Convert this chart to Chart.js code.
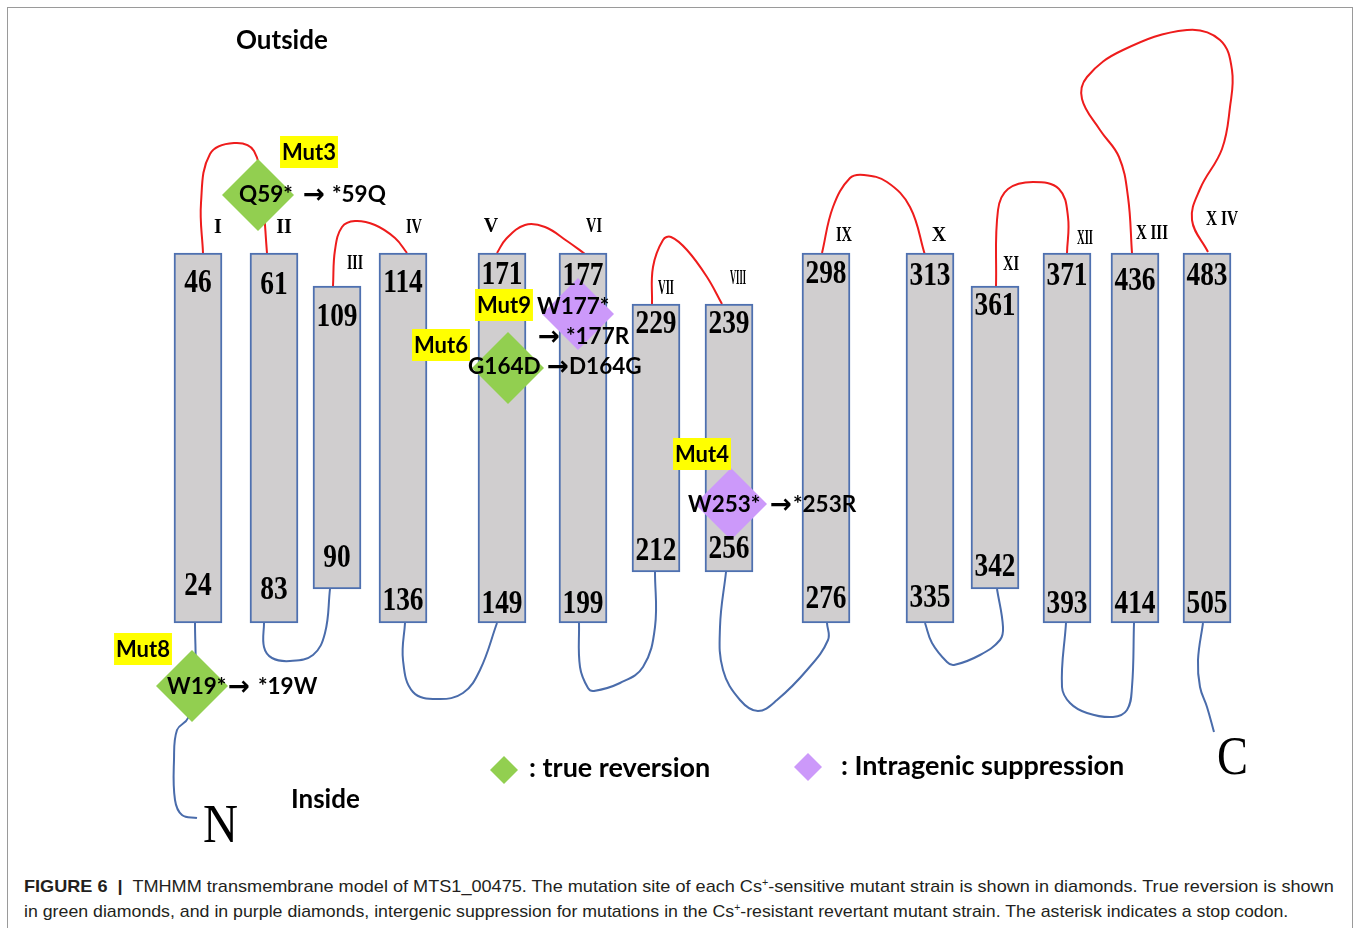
<!DOCTYPE html>
<html>
<head>
<meta charset="utf-8">
<title>TMHMM transmembrane model of MTS1_00475</title>
<script src="https://cdn.jsdelivr.net/npm/chart.js@4"></script>
<style>
  html, body { margin: 0; padding: 0; background: #fff; overflow: hidden; }
  #frame { position: absolute; left: 7px; top: 7px; width: 1344px; height: 980px; border: 1px solid #9a9a9a; }
  #chart { position: absolute; left: 8px; top: 8px; }
  .cap { position: absolute; left: 24px; font: 17px 'Liberation Sans', Arial, sans-serif; color: #231f20;
         white-space: nowrap; line-height: 22px; transform-origin: 0 50%; }
  .cap sup { font-size: 10px; vertical-align: 6px; line-height: 0; }
</style>
</head>
<body>
<div id="frame"></div>
<canvas id="chart" width="1344" height="850"></canvas>
<div class="cap" id="cap1" style="top:876px"><b>FIGURE 6</b>&nbsp; <b>|</b>&nbsp; TMHMM transmembrane model of MTS1_00475. The mutation site of each Cs<sup>+</sup>-sensitive mutant strain is shown in diamonds. True reversion is shown</div>
<div class="cap" id="cap2" style="top:901px">in green diamonds, and in purple diamonds, intergenic suppression for mutations in the Cs<sup>+</sup>-resistant revertant mutant strain. The asterisk indicates a stop codon.</div>
<script>
// membrane units: y = 0 is the inner face of the membrane, x runs along it
const helixNames = ['I', 'II', 'III', 'IV', 'V', 'VI', 'VII', 'VIII', 'IX', 'X', 'XI', 'XII', 'X III', 'X IV'];
const helixCenter = [19.0, 26.6, 32.9, 39.5, 49.4, 57.5, 64.8, 72.1, 81.8, 92.2, 98.7, 105.9, 112.7, 119.9];
const helixTop = [37.0, 37.0, 33.7, 37.0, 37.0, 37.0, 31.9, 31.9, 37.0, 37.0, 33.7, 37.0, 37.0, 37.0];
const helixBottom = [0, 0, 3.4, 0, 0, 0, 5.1, 5.1, 0, 0, 3.4, 0, 0, 0];
const topResidue = [46, 61, 109, 114, 171, 177, 229, 239, 298, 313, 361, 371, 436, 483];
const bottomResidue = [24, 83, 90, 136, 149, 199, 212, 256, 276, 335, 342, 393, 414, 505];

// loops outside the cell (red) and inside (blue)
const outsideLoops = [
  [[19.5, 37.0], [19.3, 42.0], [20.2, 46.9], [22.6, 48.0], [24.6, 47.2], [25.4, 43.0], [25.9, 37.0]],
  [[32.5, 33.7], [32.7, 37.3], [33.4, 39.6], [34.7, 40.2], [36.7, 39.8], [38.7, 38.5], [39.9, 37.0]],
  [[48.9, 37.0], [49.8, 38.4], [51.7, 39.8], [53.7, 39.6], [55.9, 38.2], [57.7, 36.9]],
  [[64.4, 31.9], [64.5, 35.6], [65.5, 38.3], [66.3, 38.6], [67.9, 37.3], [69.9, 34.6], [71.4, 31.9]],
  [[81.4, 37.0], [82.5, 41.6], [84.2, 44.5], [85.6, 44.8], [87.9, 44.1], [90.2, 41.6], [91.7, 36.8]],
  [[98.8, 33.7], [99.0, 41.3], [100.0, 43.4], [102.5, 44.1], [105.1, 43.4], [106.0, 40.6], [105.9, 37.0]],
  [[112.4, 37.0], [112.0, 42.6], [111.1, 46.6], [109.2, 49.3], [107.4, 52.4], [107.9, 54.6], [111.5, 57.3],
   [117.9, 59.3], [121.2, 58.3], [122.4, 55.3], [122.2, 51.6], [121.4, 47.4], [119.2, 43.4], [118.4, 40.3], [120.0, 37.1]]
];
const insideLoops = [
  [[18.9, -19.5], [17.4, -19.2], [16.7, -17.7], [16.6, -13.7], [16.9, -10.7], [18.0, -9.5], [18.7, -5.7], [18.7, 0]],
  [[25.6, 0], [25.6, -2.4], [26.4, -3.5], [28.2, -3.8], [30.5, -3.2], [31.7, -1.0], [32.2, 3.4]],
  [[39.7, 0], [39.5, -3.7], [40.5, -6.9], [43.0, -7.6], [45.5, -7.0], [47.2, -4.7], [48.9, 0]],
  [[57.1, 0], [57.2, -4.4], [58.0, -6.5], [58.6, -6.8], [61.2, -6.0], [63.5, -4.4], [64.7, -0.4], [64.7, 5.1]],
  [[71.8, 5.1], [71.2, -0.4], [71.5, -4.7], [73.2, -7.7], [75.0, -8.8], [76.9, -7.7], [79.9, -4.7], [82.0, -1.7], [81.9, 0]],
  [[91.7, 0], [92.4, -2.0], [93.9, -3.9], [94.6, -4.2], [97.2, -3.2], [99.2, -1.7], [99.5, -0.4], [98.9, 3.4]],
  [[105.8, 0], [105.4, -6.4], [106.2, -8.0], [107.9, -9.0], [110.5, -9.4], [111.9, -8.7], [112.4, -6.4], [112.6, 0]],
  [[119.5, 0], [119.0, -3.7], [119.2, -6.4], [119.9, -8.4], [120.6, -10.9]]
];

// mutation sites
const mutNames = ['Mut3', 'Mut9', 'Mut6', 'Mut4', 'Mut8'];
const mutFrom = ['Q59*', 'W177*', 'G164D', 'W253*', 'W19*'];
const mutTo = ['*59Q', '*177R', 'D164G', '*253R', '*19W'];
const mutKind = ['true', 'suppression', 'true', 'suppression', 'true'];
const mutSite = [[25.0, 42.8], [57.0, 30.9], [50.0, 25.5], [72.3, 11.9], [18.4, -6.3]];

const legendLabels = [': true reversion', ': Intragenic suppression'];
const legendKinds = ['true', 'suppression'];

const kindColor = { 'true': '#92cf50', 'suppression': '#cc99fa' };

// where the words sit (membrane units)
const tagAt = [[30.1, 47.1], [49.6, 31.8], [43.3, 27.8], [69.4, 16.9], [13.5, -2.6]];
const fromAt = [[23.1, 42.8], [52.9, 31.6], [46.0, 25.6], [68.0, 11.8], [15.9, -6.4]];
const arrowAt = [[29.5, 42.8], [53.0, 28.6], [53.9, 25.6], [76.2, 11.8], [22.0, -6.4]];
const toAt = [[32.4, 42.8], [55.8, 28.6], [56.1, 25.6], [78.5, 11.8], [25.0, -6.4]];
const numeralAt = [[21.0, 39.5], [27.6, 39.5], [34.7, 35.9], [40.6, 39.5], [48.3, 39.6], [58.6, 39.6], [65.8, 33.4],
  [73.0, 34.4], [83.6, 38.7], [93.1, 38.7], [100.3, 35.8], [107.7, 38.4], [114.4, 38.9], [121.4, 40.3]];
const topDrop = [3.9, 4.1, 4.0, 3.9, 3.1, 3.2, 2.9, 2.9, 3.0, 3.2, 2.9, 3.2, 3.7, 3.2];
const bottomLift = [2.8, 2.4, 2.2, 1.3, 1.0, 1.0, 1.2, 1.4, 1.5, 1.6, 1.3, 1.0, 1.0, 1.0];
const legendMarkAt = [[49.6, -14.7], [80.0, -14.4]];
const legendTextAt = [[52.1, -14.5], [83.3, -14.3]];

const labelFont = "'Lato', 'DejaVu Sans', sans-serif";
const serif = "'Liberation Serif', 'Times New Roman', serif";

const textPlugin = {
  id: 'modelText',
  afterDatasetsDraw(chart) {
    const ctx = chart.ctx;
    const sx = chart.scales.x, sy = chart.scales.y;
    const X = u => sx.getPixelForValue(u);
    const Y = v => sy.getPixelForValue(v);
    ctx.save();
    ctx.fillStyle = '#000';

    // residue numbers at helix ends
    ctx.font = 'bold 33px ' + serif;
    ctx.textAlign = 'center';
    ctx.textBaseline = 'alphabetic';
    helixCenter.forEach((c, i) => {
      [[topResidue[i], helixTop[i] - topDrop[i]], [bottomResidue[i], helixBottom[i] + bottomLift[i]]].forEach(([t, v]) => {
        ctx.save();
        ctx.translate(X(c), Y(v));
        ctx.scale(0.83, 1);
        ctx.fillText(String(t), 0, 0);
        ctx.restore();
      });
    });

    // helix numerals
    ctx.font = 'bold 20px ' + serif;
    ctx.textBaseline = 'middle';
    helixNames.forEach((n, i) => {
      ctx.fillText(n, X(numeralAt[i][0]), Y(numeralAt[i][1]), n.includes(' ') ? 32 : 16);
    });

    // Outside / Inside
    ctx.font = 'bold 26px ' + labelFont;
    ctx.textAlign = 'left';
    ctx.fillText('Outside', X(22.8), Y(58.2));
    ctx.fillText('Inside', X(28.3), Y(-17.7));

    // termini
    ctx.font = '54px ' + serif;
    ctx.textAlign = 'center';
    ctx.textBaseline = 'alphabetic';
    ctx.fillText('N', X(21.25), Y(-21.9), 35);
    ctx.fillText('C', X(122.45), Y(-15.1), 31);

    // mutation tags and changes
    ctx.textBaseline = 'middle';
    mutNames.forEach((m, i) => {
      ctx.font = 'bold 22px ' + labelFont;
      const w = ctx.measureText(m).width + 4;
      const cx = X(tagAt[i][0]), cy = Y(tagAt[i][1]);
      ctx.fillStyle = '#ffff00';
      ctx.fillRect(cx - w / 2, cy - 16, w, 32);
      ctx.fillStyle = '#000';
      ctx.textAlign = 'center';
      ctx.fillText(m, cx, cy + 1);
      ctx.textAlign = 'left';
      ctx.font = 'bold 22.5px ' + labelFont;
      ctx.fillText(mutFrom[i], X(fromAt[i][0]), Y(fromAt[i][1]));
      ctx.fillText(mutTo[i], X(toAt[i][0]), Y(toAt[i][1]));
      ctx.font = 'bold 27px "DejaVu Sans", sans-serif';
      ctx.fillText('\u2192', X(arrowAt[i][0]), Y(arrowAt[i][1]) + 1, 22);
    });

    // legend words
    ctx.font = 'bold 27px ' + labelFont;
    ctx.textAlign = 'left';
    legendLabels.forEach((t, i) => ctx.fillText(t, X(legendTextAt[i][0]), Y(legendTextAt[i][1])));
    ctx.restore();
  }
};

const loopSet = (pts, color) => ({
  type: 'line',
  data: pts.map(p => ({ x: p[0], y: p[1] })),
  borderColor: color,
  borderWidth: 2,
  pointRadius: 0,
  tension: 0.4,
  fill: false,
  order: 3
});

new Chart(document.getElementById('chart'), {
  type: 'bar',
  data: {
    datasets: [
      {
        type: 'scatter',
        label: 'mutation sites',
        data: mutSite.map(p => ({ x: p[0], y: p[1] })),
        pointStyle: 'rectRot',
        pointRadius: 36,
        backgroundColor: mutKind.map(k => kindColor[k]),
        borderWidth: 0,
        order: 0
      },
      {
        type: 'scatter',
        label: 'legend',
        data: legendMarkAt.map(p => ({ x: p[0], y: p[1] })),
        pointStyle: 'rectRot',
        pointRadius: 14,
        backgroundColor: legendKinds.map(k => kindColor[k]),
        borderWidth: 0,
        order: 0
      },
      {
        type: 'bar',
        label: 'helices',
        data: helixCenter.map((c, i) => ({ x: c, y: [helixBottom[i], helixTop[i]] })),
        backgroundColor: '#d0cecf',
        borderColor: '#4e70b0',
        borderWidth: 2,
        borderSkipped: false,
        barThickness: 48,
        order: 1
      },
      ...outsideLoops.map(l => loopSet(l, '#ee1c1c')),
      ...insideLoops.map(l => loopSet(l, '#4a6cab'))
    ]
  },
  options: {
    responsive: false,
    animation: false,
    events: [],
    layout: { padding: 0, autoPadding: false },
    plugins: { legend: { display: false }, tooltip: { enabled: false } },
    scales: {
      x: { type: 'linear', min: 0, max: 134.4, display: false, offset: false },
      y: { type: 'linear', min: -23.5, max: 61.5, display: false }
    }
  },
  plugins: [textPlugin]
});

// squeeze each caption line to the width it has in the figure
function fitCaption(id, width) {
  const el = document.getElementById(id);
  el.style.transform = 'none';
  el.style.transform = 'scaleX(' + (width / el.scrollWidth) + ')';
}
fitCaption('cap1', 1310);
fitCaption('cap2', 1264);
</script>
</body>
</html>
